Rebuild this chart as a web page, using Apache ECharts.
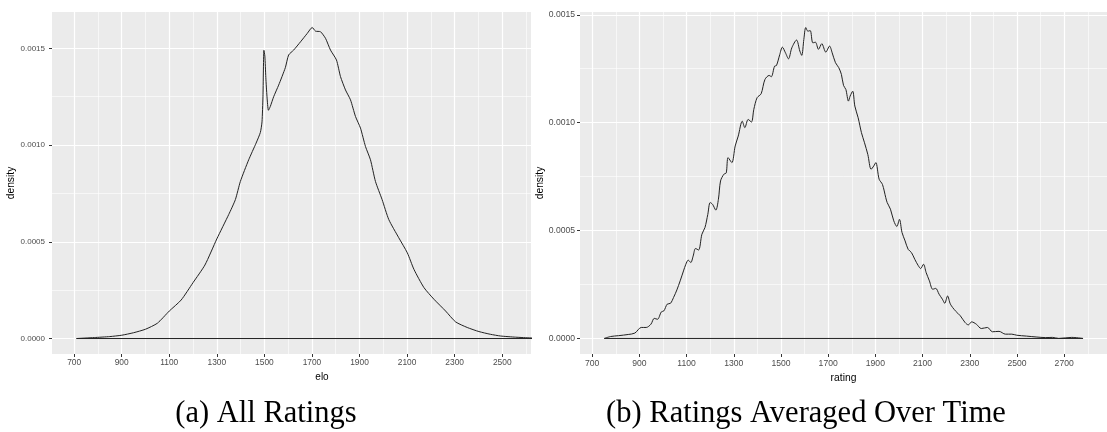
<!DOCTYPE html>
<html>
<head>
<meta charset="utf-8">
<script src="https://cdn.jsdelivr.net/npm/echarts@6/dist/echarts.min.js"></script>
<style>
  html, body { margin: 0; padding: 0; background: #ffffff; }
  #chart { width: 1107px; height: 432px; }
</style>
</head>
<body>
<div id="chart"></div>
<script>
// Density of all ratings (elo)
const eloX = [710, 785, 850, 900, 950, 1000, 1050, 1100, 1150, 1200, 1250, 1300, 1350, 1378, 1399, 1434,
  1465, 1483, 1490, 1494, 1498, 1502, 1506, 1511, 1517, 1525, 1539, 1560, 1588, 1602, 1623, 1652, 1680,
  1701, 1715, 1736, 1757, 1778, 1803, 1820, 1841, 1862, 1883, 1904, 1925, 1946, 1967, 1995, 2023, 2065,
  2101, 2129, 2171, 2213, 2262, 2304, 2353, 2402, 2450, 2493, 2556, 2622, 2700, 2770];
const eloDensity = [0, 0.000005, 0.000010, 0.000017, 0.000030, 0.000048, 0.000079, 0.000142, 0.000199,
  0.000289, 0.000380, 0.000515, 0.000641, 0.000718, 0.000812, 0.000924, 0.001010, 0.001065, 0.00112,
  0.00125, 0.00149, 0.00146, 0.00135, 0.00125, 0.00118, 0.00120, 0.00125, 0.00131, 0.00140, 0.001466,
  0.001491, 0.001534, 0.001577, 0.001608, 0.001589, 0.001586, 0.001552, 0.001491, 0.00144, 0.001354,
  0.001285, 0.001234, 0.001148, 0.001088, 0.000993, 0.000924, 0.000812, 0.000718, 0.000615, 0.000521,
  0.000443, 0.000357, 0.000263, 0.000203, 0.000142, 0.000086, 0.000057, 0.000036, 0.000022, 0.000013,
  0.000007, 0.000003, 0.000001, 0];

// Density of ratings averaged over time
const ratingX = [751, 778, 812, 853, 881, 908, 929, 949, 963, 977, 993, 1004, 1018, 1032, 1045, 1059, 1073,
  1087, 1097, 1107, 1118, 1128, 1138, 1151, 1165, 1178, 1190, 1200, 1210, 1224, 1235, 1244, 1258, 1268,
  1276, 1292, 1306, 1319, 1336, 1347, 1361, 1375, 1385, 1399, 1416, 1432, 1450, 1459, 1473, 1481, 1495,
  1506, 1519, 1532, 1546, 1566, 1580, 1588, 1597, 1605, 1614, 1624, 1635, 1646, 1659, 1673, 1690, 1706,
  1717, 1731, 1745, 1756, 1765, 1775, 1786, 1793, 1804, 1813, 1827, 1841, 1854, 1868, 1882, 1893, 1902,
  1916, 1930, 1944, 1950, 1964, 1978, 1991, 2002, 2013, 2026, 2039, 2053, 2067, 2081, 2092, 2104, 2115,
  2129, 2143, 2156, 2170, 2184, 2194, 2206, 2218, 2239, 2260, 2280, 2294, 2308, 2328, 2349, 2375, 2396,
  2424, 2451, 2478, 2499, 2540, 2581, 2622, 2650, 2677, 2732, 2780];
const ratingDensity = [0, 0.000009, 0.000013, 0.0000185, 0.000025, 0.000051, 0.000051, 0.000066, 0.000093,
  0.000089, 0.000123, 0.000128, 0.000159, 0.000163, 0.00019, 0.000225, 0.000267, 0.000313, 0.000344,
  0.000363, 0.000352, 0.000382, 0.000417, 0.00041, 0.000483, 0.000514, 0.000575, 0.00063, 0.000622,
  0.000595, 0.000645, 0.00073, 0.000761, 0.000767, 0.000838, 0.000815, 0.000892, 0.000938, 0.001007,
  0.000977, 0.001015, 0.001003, 0.001062, 0.001116, 0.001134, 0.0012, 0.001219, 0.001213, 0.001262,
  0.001265, 0.001316, 0.00135, 0.001324, 0.001296, 0.001347, 0.001383, 0.001332, 0.001312, 0.001386,
  0.001441, 0.001424, 0.001427, 0.00137, 0.001373, 0.00134, 0.001366, 0.001327, 0.001355, 0.001324,
  0.001278, 0.001255, 0.001224, 0.001173, 0.001154, 0.0011, 0.001123, 0.001146, 0.001077, 0.001023,
  0.000954, 0.000907, 0.000853, 0.000784, 0.000799, 0.000815, 0.000738, 0.000714, 0.000653, 0.00063,
  0.000599, 0.000545, 0.000519, 0.000552, 0.000491, 0.000452, 0.000413, 0.000398, 0.000367, 0.000339,
  0.000324, 0.000344, 0.000306, 0.000267, 0.000228, 0.000232, 0.000205, 0.000182, 0.000163, 0.000197,
  0.000159, 0.000128, 0.000105, 0.000074, 0.000063, 0.000077, 0.000066, 0.000046, 0.000051, 0.000031,
  0.000033, 0.00002, 0.00002, 0.000015, 0.000011, 0.000007, 0.000004, 0.000005, 0, 0.000005, 0];

// Axis breaks
const eloTicks = [700, 900, 1100, 1300, 1500, 1700, 1900, 2100, 2300, 2500];
const eloMinor = [800, 1000, 1200, 1400, 1600, 1800, 2000, 2200, 2400, 2600];
const ratingTicks = [700, 900, 1100, 1300, 1500, 1700, 1900, 2100, 2300, 2500, 2700];
const ratingMinor = [800, 1000, 1200, 1400, 1600, 1800, 2000, 2200, 2400, 2600, 2800];
const densityTicks = [0, 0.0005, 0.001, 0.0015];
const densityMinor = [0.00025, 0.00075, 0.00125];

const captions = ['(a) All Ratings', '(b) Ratings Averaged Over Time'];

const SANS = "'Liberation Sans', Arial, sans-serif";
const SERIF = "'Liberation Serif', 'Times New Roman', serif";
const PANEL = '#EBEBEB';
const INK = '#222222';

function pairs(xs, ys) { return xs.map((x, i) => [x, ys[i]]); }
function baseline(xs) { return [[xs[0], 0], [xs[xs.length - 1], 0]]; }

function majorX(grid, min, max, ticks, name, opts) {
  return {
    type: 'value', gridIndex: grid, min: min, max: max, position: 'bottom',
    axisLine: { show: false, onZero: false },
    axisTick: { show: true, length: 3, customValues: ticks, lineStyle: { color: '#333333', width: 1 } },
    axisLabel: {
      customValues: ticks, fontSize: opts.tickSize, color: '#4D4D4D', margin: 5, fontFamily: SANS,
      formatter: v => String(v)
    },
    splitLine: { show: true, lineStyle: { color: '#ffffff', width: 1.2 } },
    name: name, nameLocation: 'middle', nameGap: 16,
    nameTextStyle: { fontSize: opts.titleSize, color: '#000000', fontFamily: SANS, padding: opts.namePad }
  };
}
function minorX(grid, min, max, ticks) {
  return {
    type: 'value', gridIndex: grid, min: min, max: max, position: 'top',
    axisLine: { show: false, onZero: false },
    axisTick: { show: false, customValues: ticks },
    axisLabel: { show: false, customValues: ticks },
    splitLine: { show: true, lineStyle: { color: '#ffffff', width: 0.6 } }
  };
}
function majorY(grid, min, max, opts) {
  return {
    type: 'value', gridIndex: grid, min: min, max: max, position: 'left',
    axisLine: { show: false, onZero: false },
    axisTick: { show: true, length: 3, customValues: densityTicks, lineStyle: { color: '#333333', width: 1 } },
    axisLabel: {
      customValues: densityTicks, fontSize: opts.tickSize, color: '#4D4D4D', margin: opts.labelMargin,
      fontFamily: SANS, formatter: v => Number(v).toFixed(4)
    },
    splitLine: { show: true, lineStyle: { color: '#ffffff', width: 1.2 } },
    name: 'density', nameLocation: 'middle', nameGap: opts.nameGap,
    nameTextStyle: { fontSize: opts.titleSize, color: '#000000', fontFamily: SANS }
  };
}
function minorY(grid, min, max) {
  return {
    type: 'value', gridIndex: grid, min: min, max: max, position: 'right',
    axisLine: { show: false, onZero: false },
    axisTick: { show: false, customValues: densityMinor },
    axisLabel: { show: false, customValues: densityMinor },
    splitLine: { show: true, lineStyle: { color: '#ffffff', width: 0.6 } }
  };
}
function curve(xi, yi, data, smooth) {
  return {
    type: 'line', xAxisIndex: xi, yAxisIndex: yi, data: data, showSymbol: false, smooth: smooth,
    clip: true, lineStyle: { color: INK, width: 1 }, silent: true, animation: false, z: 5
  };
}

const chart = echarts.init(document.getElementById('chart'), null, { renderer: 'canvas' });
chart.setOption({
  backgroundColor: '#ffffff',
  animation: false,
  grid: [
    { left: 52, top: 12, width: 479, height: 342, show: true, backgroundColor: PANEL, borderWidth: 0 },
    { left: 580, top: 12, width: 543, height: 342, show: true, backgroundColor: PANEL, borderWidth: 0 }
  ],
  xAxis: [
    majorX(0, 607, 2621, eloTicks, 'elo', { tickSize: 8.4, titleSize: 10, namePad: [0, 0, 0, 61] }),
    minorX(0, 607, 2621, eloMinor),
    majorX(1, 648.5, 2881.5, ratingTicks, 'rating', { tickSize: 8.6, titleSize: 10.3, namePad: 0 }),
    minorX(1, 648.5, 2881.5, ratingMinor)
  ],
  yAxis: [
    majorY(0, -0.00008, 0.001688, { tickSize: 8, titleSize: 10.3, labelMargin: 7, nameGap: 28 }),
    minorY(0, -0.00008, 0.001688),
    majorY(1, -0.000072, 0.001513, { tickSize: 8.6, titleSize: 10.3, labelMargin: 5, nameGap: 29 }),
    minorY(1, -0.000072, 0.001513)
  ],
  series: [
    curve(0, 0, pairs(eloX, eloDensity), 0.2),
    curve(0, 0, baseline(eloX), false),
    curve(2, 2, pairs(ratingX, ratingDensity), 0.3),
    curve(2, 2, baseline(ratingX), false)
  ],
  graphic: [
    { type: 'text', x: 266, y: 414, silent: true,
      style: { text: captions[0], font: '30.5px ' + SERIF, fill: '#000', align: 'center', verticalAlign: 'middle',
               textAlign: 'center', textVerticalAlign: 'middle' } },
    { type: 'text', x: 806, y: 414, silent: true,
      style: { text: captions[1], font: '30.5px ' + SERIF, fill: '#000', align: 'center', verticalAlign: 'middle',
               textAlign: 'center', textVerticalAlign: 'middle' } }
  ]
});
</script>
</body>
</html>
